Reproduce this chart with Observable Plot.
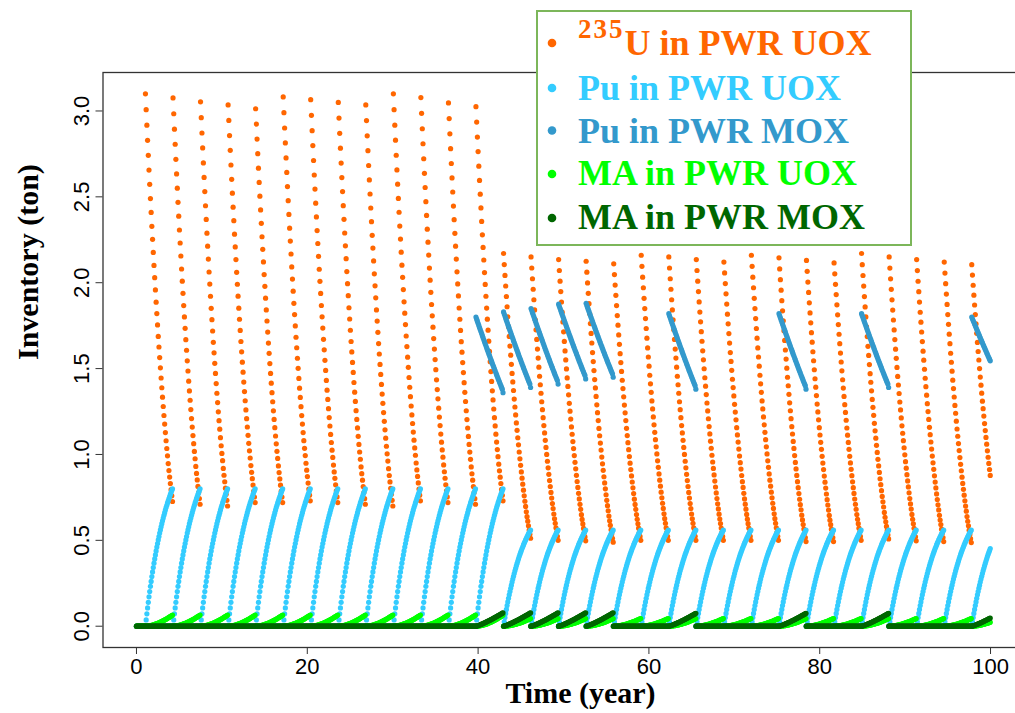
<!DOCTYPE html>
<html>
<head>
<meta charset="utf-8">
<script src="https://cdn.jsdelivr.net/npm/d3@7"></script>
<script src="https://cdn.jsdelivr.net/npm/@observablehq/plot@0.6"></script>
<style>
  html, body { margin: 0; padding: 0; background: #fff; }
  #chart { position: relative; width: 1015px; height: 713px; overflow: hidden; }
  #chart svg.legend { position: absolute; left: 0; top: 0; pointer-events: none; }
</style>
</head>
<body>
<div id="chart"></div>
<script>
// ---- Series names and colours (legend order = drawing order) ----
const seriesNames = ["U in PWR UOX", "Pu in PWR UOX", "Pu in PWR MOX", "MA in PWR UOX", "MA in PWR MOX"];
const seriesColors = ["#FF6600", "#33CCFF", "#3399CC", "#00FF00", "#006600"];

// ---- Axis ticks ----
const xTicks = [0, 20, 40, 60, 80, 100];
const yTicks = [0, 0.5, 1, 1.5, 2, 2.5, 3];

// ---- Monthly shape of one irradiation cycle (39 monthly states, 0 = load, 1 = discharge) ----
const u235Depletion = [0, 0.039, 0.077, 0.114, 0.151, 0.187, 0.222, 0.257, 0.291, 0.325, 0.357, 0.389, 0.421,
  0.451, 0.481, 0.511, 0.539, 0.567, 0.595, 0.621, 0.647, 0.672, 0.697, 0.721, 0.744, 0.767, 0.789, 0.810,
  0.831, 0.851, 0.870, 0.888, 0.907, 0.924, 0.940, 0.956, 0.971, 0.986, 1];
const puBuildup = [0, 0.046, 0.090, 0.133, 0.174, 0.214, 0.252, 0.290, 0.326, 0.361, 0.395, 0.427, 0.459,
  0.490, 0.519, 0.548, 0.576, 0.602, 0.628, 0.653, 0.678, 0.701, 0.724, 0.746, 0.767, 0.787, 0.807, 0.826,
  0.845, 0.863, 0.880, 0.897, 0.913, 0.929, 0.944, 0.959, 0.973, 0.987, 1];
const maBuildup = [0, 0.002, 0.007, 0.013, 0.022, 0.032, 0.043, 0.056, 0.071, 0.086, 0.103, 0.122, 0.141,
  0.161, 0.183, 0.206, 0.230, 0.255, 0.281, 0.308, 0.336, 0.365, 0.395, 0.426, 0.458, 0.491, 0.525, 0.559,
  0.595, 0.632, 0.669, 0.707, 0.747, 0.787, 0.828, 0.870, 0.912, 0.956, 1];
const moxPuDepletion = [0, 0.028, 0.055, 0.083, 0.110, 0.138, 0.165, 0.192, 0.219, 0.246, 0.273, 0.300, 0.327,
  0.353, 0.380, 0.406, 0.432, 0.458, 0.484, 0.510, 0.536, 0.562, 0.587, 0.613, 0.638, 0.663, 0.688, 0.713,
  0.738, 0.763, 0.787, 0.812, 0.836, 0.860, 0.884, 0.908, 0.931, 0.954, 1];
const moxMaBuildup = [0, 0.013, 0.029, 0.048, 0.067, 0.088, 0.109, 0.131, 0.154, 0.178, 0.202, 0.226, 0.251,
  0.276, 0.302, 0.328, 0.354, 0.381, 0.408, 0.435, 0.463, 0.491, 0.519, 0.547, 0.576, 0.605, 0.634, 0.664,
  0.693, 0.723, 0.753, 0.783, 0.814, 0.844, 0.875, 0.906, 0.937, 0.969, 1];

// ---- PWR UOX cycles: load time (year) and inventories (ton) ----
const uoxStart = [1.05, 4.28, 7.50, 10.73, 13.95, 17.18, 20.40, 23.63, 26.85, 30.08, 33.30, 36.53, 39.75,
  42.98, 46.20, 49.43, 52.65, 55.88, 59.10, 62.33, 65.55, 68.78, 72.00, 75.23, 78.45, 81.68, 84.90, 88.13,
  91.35, 94.58, 97.80];
const u235Load = [3.10, 3.076, 3.053, 3.035, 3.013, 3.082, 3.066, 3.05, 3.035, 3.10, 3.078, 3.047, 3.025,
  2.17, 2.15, 2.135, 2.125, 2.11, 2.16, 2.15, 2.135, 2.12, 2.16, 2.145, 2.13, 2.115, 2.17, 2.15, 2.135,
  2.12, 2.105];
const u235Discharge = [0.726, 0.71, 0.70, 0.72, 0.72, 0.73, 0.72, 0.71, 0.70, 0.73, 0.72, 0.71, 0.73,
  0.512, 0.50, 0.497, 0.489, 0.50, 0.50, 0.50, 0.50, 0.50, 0.50, 0.493, 0.493, 0.50, 0.508, 0.497, 0.493,
  0.487, 0.55];
const puUoxDischarge = [0.80, 0.80, 0.80, 0.80, 0.80, 0.80, 0.80, 0.80, 0.80, 0.80, 0.80, 0.80, 0.80,
  0.56, 0.56, 0.56, 0.56, 0.56, 0.56, 0.56, 0.56, 0.56, 0.56, 0.56, 0.56, 0.56, 0.56, 0.56, 0.56, 0.56, 0.56];
const maUoxDischarge = [0.065, 0.065, 0.065, 0.065, 0.065, 0.065, 0.065, 0.065, 0.065, 0.065, 0.065, 0.065, 0.065,
  0.045, 0.045, 0.045, 0.045, 0.045, 0.045, 0.045, 0.045, 0.045, 0.045, 0.045, 0.045, 0.045, 0.045, 0.045,
  0.045, 0.045, 0.045];

// ---- PWR MOX cycles ----
const moxStart = [39.75, 42.98, 46.20, 49.43, 52.65, 62.33, 75.23, 84.90, 97.80];
const puMoxLoad = [1.80, 1.83, 1.85, 1.875, 1.88, 1.82, 1.82, 1.82, 1.80];
const puMoxDischarge = [1.36, 1.39, 1.41, 1.44, 1.45, 1.38, 1.38, 1.39, 1.43];
const maMoxDischarge = [0.078, 0.078, 0.078, 0.078, 0.078, 0.075, 0.075, 0.075, 0.075];

const tEnd = 100;

// ---- Build the monthly inventory points ----
const u235 = [], puUox = [], puMox = [], maUox = [], maMox = [];
const steps = u235Depletion.length;

// nothing in the core before the first UOX load
for (let k = 0; k / 12 < uoxStart[0]; k++) {
  const t = k / 12;
  u235.push({t, v: 0}); puUox.push({t, v: 0}); maUox.push({t, v: 0});
}
uoxStart.forEach((t0, c) => {
  for (let n = 0; n < steps; n++) {
    const t = t0 + n / 12;
    if (t > tEnd) break;
    u235.push({t, v: u235Load[c] - (u235Load[c] - u235Discharge[c]) * u235Depletion[n]});
    puUox.push({t, v: puUoxDischarge[c] * puBuildup[n]});
    maUox.push({t, v: maUoxDischarge[c] * maBuildup[n]});
  }
});
moxStart.forEach((t0, c) => {
  for (let n = 0; n < steps; n++) {
    const t = t0 + n / 12;
    if (t > tEnd) break;
    puMox.push({t, v: puMoxLoad[c] - (puMoxLoad[c] - puMoxDischarge[c]) * moxPuDepletion[n]});
    maMox.push({t, v: maMoxDischarge[c] * moxMaBuildup[n]});
  }
});
// months with no MOX assembly in the core
const moxSpan = (steps - 1) / 12;
for (let k = 0; k <= tEnd * 12; k++) {
  const t = k / 12;
  const loaded = moxStart.some(s => t >= s - 1e-6 && t <= s + moxSpan + 1e-6);
  if (!loaded) { puMox.push({t, v: 0}); maMox.push({t, v: 0}); }
}

const seriesData = [u235, puUox, puMox, maUox, maMox];

const serif = "'Liberation Serif', 'Times New Roman', serif";
const sans = "'Liberation Sans', Arial, sans-serif";

const chart = Plot.plot({
  width: 1015,
  height: 713,
  marginLeft: 102.5,
  marginRight: -42.5,
  marginTop: 72,
  marginBottom: 66,
  x: {domain: [-3.92, 107.9], axis: null},
  y: {domain: [-0.124, 3.224], axis: null},
  style: {fontFamily: sans, fontSize: "22px", color: "#000", background: "#fff", overflow: "hidden"},
  marks: [
    ...seriesData.map((data, i) =>
      Plot.dot(data, {x: "t", y: "v", r: 2.6, fill: seriesColors[i], stroke: null})),
    Plot.frame({stroke: "#333", strokeWidth: 1.3}),
    Plot.axisX(xTicks, {tickSize: 7, tickPadding: 4, stroke: "#333", fill: "#000", label: null,
      tickFormat: d => String(d), fontSize: 22}),
    Plot.axisY(yTicks, {tickSize: 7, tickPadding: 7, tickRotate: -90, stroke: "#333", fill: "#000",
      label: null, tickFormat: d3.format(".1f"), fontSize: 22}),
    Plot.text(["Time (year)"], {text: d => d, frameAnchor: "bottom", dy: 55, fontFamily: serif,
      fontWeight: "bold", fontSize: 30, fill: "#000"}),
    Plot.text(["Inventory (ton)"], {text: d => d, frameAnchor: "left", dx: -75, rotate: -90,
      fontFamily: serif, fontWeight: "bold", fontSize: 30, fill: "#000"})
  ]
});

const host = document.getElementById("chart");
host.appendChild(chart);

// ---- Legend box (top right, over the plot frame) ----
const leg = d3.select(host).append("svg")
  .attr("class", "legend").attr("width", 1015).attr("height", 713);
leg.append("rect")
  .attr("x", 537).attr("y", 11).attr("width", 374).attr("height", 234)
  .attr("fill", "#fff").attr("stroke", "#7CB65A").attr("stroke-width", 2);
const rowBullet = [43, 88, 130.5, 174, 218];
const rowBase = [55, 100, 142.5, 185, 229];
seriesNames.forEach((name, i) => {
  leg.append("circle").attr("cx", 552).attr("cy", rowBullet[i]).attr("r", 4.3)
    .attr("fill", seriesColors[i]);
  const txt = leg.append("text").attr("x", 578).attr("y", rowBase[i])
    .attr("fill", seriesColors[i]).attr("font-family", serif).attr("font-weight", "bold")
    .attr("font-size", 36);
  if (i === 0) {
    txt.append("tspan").attr("font-size", 27).attr("dy", -17.5).attr("letter-spacing", 2).text("235");
    txt.append("tspan").attr("dy", 17.5).attr("dx", 0).text(name);
  } else {
    txt.text(name);
  }
});
</script>
</body>
</html>
